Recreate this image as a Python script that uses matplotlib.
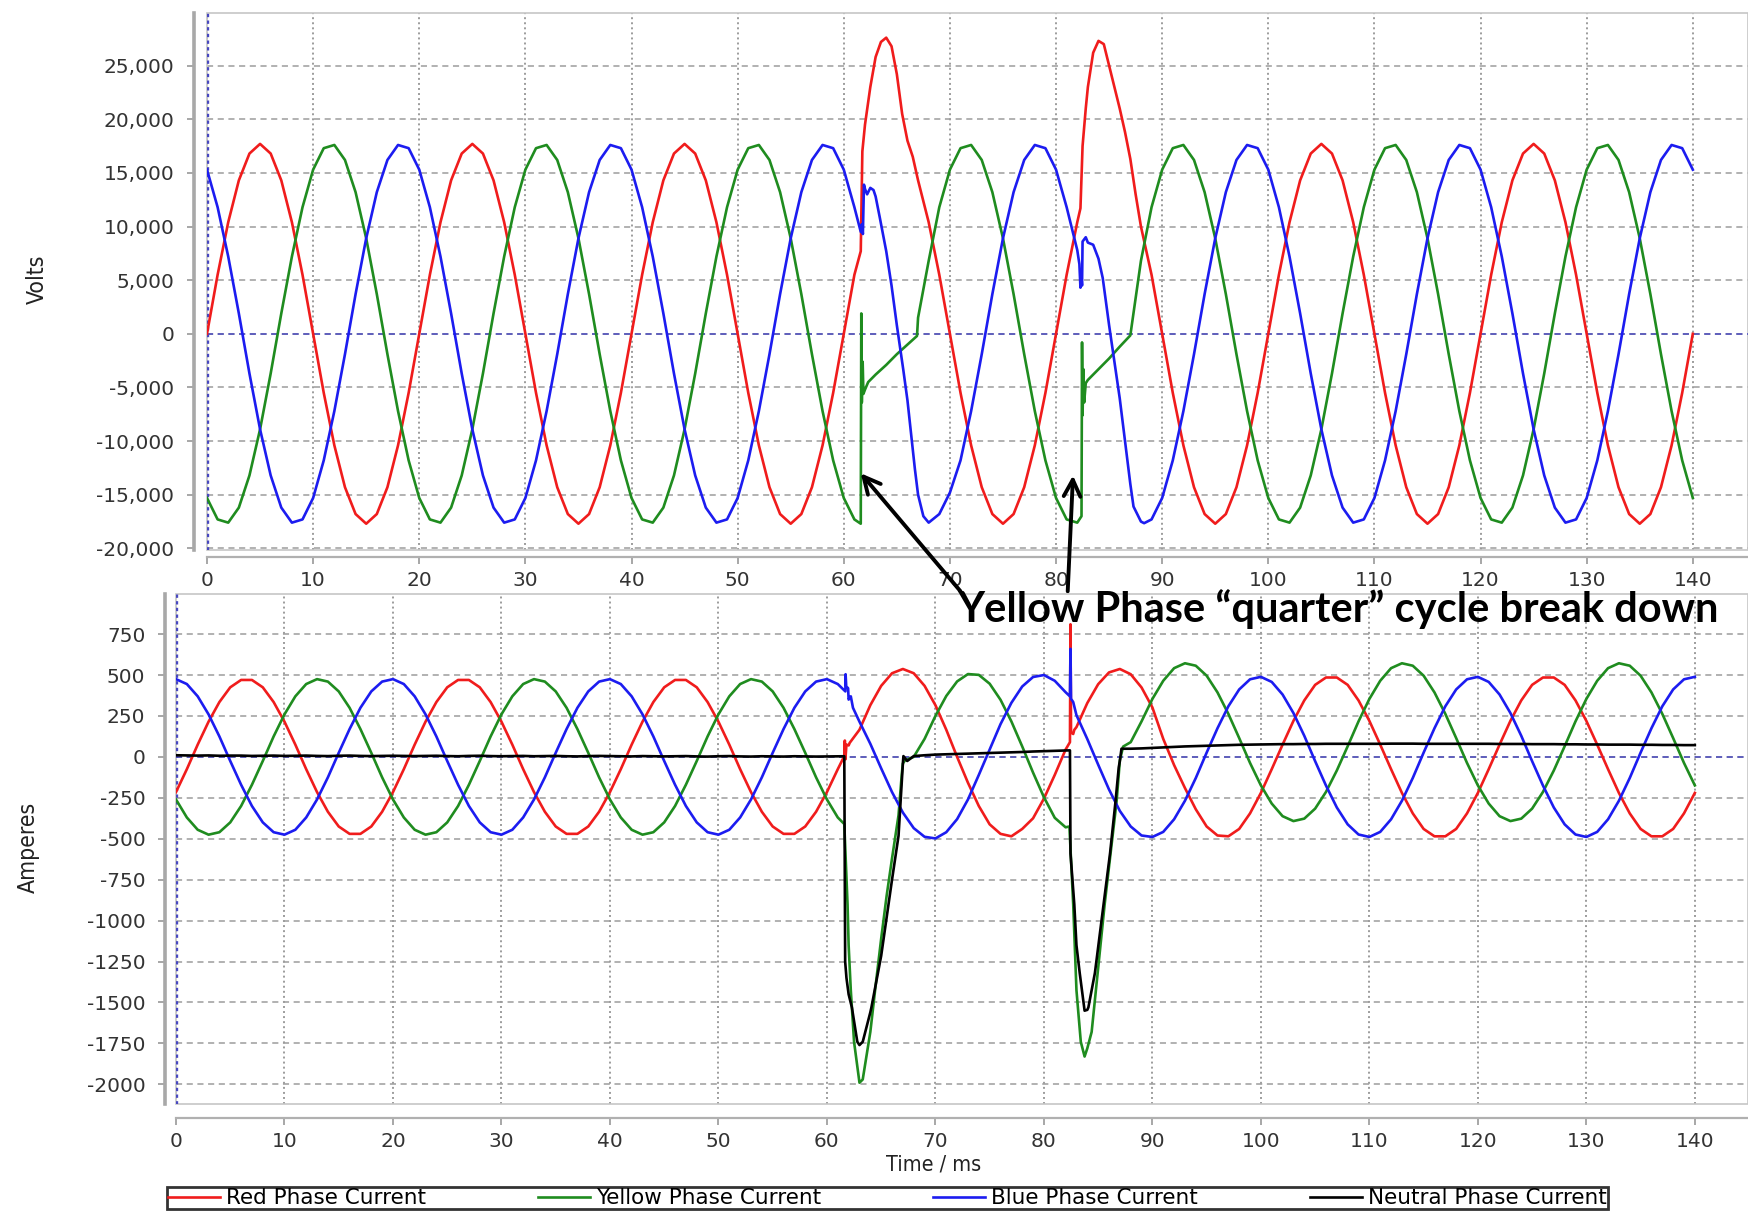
import numpy as np
import matplotlib
matplotlib.use("Agg")
import matplotlib.pyplot as plt
from matplotlib import font_manager
from matplotlib.font_manager import FontProperties
from matplotlib.patches import Rectangle
from matplotlib.ticker import FuncFormatter

# time base of the recorder, 1 ms per sample
t_ms = np.arange(0, 141)

# phase voltages (V), one value per ms
red_v = [
    0, 5500, 10400, 14300, 16800, 17700, 16800, 14300, 10400, 5500,
    0, -5500, -10400, -14300, -16800, -17700, -16800, -14300, -10400, -5500,
    0, 5500, 10400, 14300, 16800, 17700, 16800, 14300, 10400, 5500,
    0, -5500, -10400, -14300, -16800, -17700, -16800, -14300, -10400, -5500,
    0, 5500, 10400, 14300, 16800, 17700, 16800, 14300, 10400, 5500,
    0, -5500, -10400, -14300, -16800, -17700, -16800, -14300, -10400, -5500,
    0, 5500, 19500, 25800, 27600, 24200, 18000, 14300, 10400, 5500,
    0, -5500, -10400, -14300, -16800, -17700, -16800, -14300, -10400, -5500,
    0, 5500, 10400, 23000, 27300, 25000, 21000, 16300, 10000, 5500,
    0, -5500, -10400, -14300, -16800, -17700, -16800, -14300, -10400, -5500,
    0, 5500, 10400, 14300, 16800, 17700, 16800, 14300, 10400, 5500,
    0, -5500, -10400, -14300, -16800, -17700, -16800, -14300, -10400, -5500,
    0, 5500, 10400, 14300, 16800, 17700, 16800, 14300, 10400, 5500,
    0, -5500, -10400, -14300, -16800, -17700, -16800, -14300, -10400, -5500,
    0]
yellow_v = [
    -15300, -17300, -17600, -16200, -13200, -8900, -3700, 1900, 7200, 11800,
    15300, 17300, 17600, 16200, 13200, 8900, 3700, -1900, -7200, -11800,
    -15300, -17300, -17600, -16200, -13200, -8900, -3700, 1900, 7200, 11800,
    15300, 17300, 17600, 16200, 13200, 8900, 3700, -1900, -7200, -11800,
    -15300, -17300, -17600, -16200, -13200, -8900, -3700, 1900, 7200, 11800,
    15300, 17300, 17600, 16200, 13200, 8900, 3700, -1900, -7200, -11800,
    -15300, -17300, -5200, -3800, -2900, -1900, -1000, 1500, 6800, 11800,
    15300, 17300, 17600, 16200, 13200, 8900, 3700, -1900, -7200, -11800,
    -15300, -17300, -17600, -4300, -3300, -2300, -1200, -150, 6800, 11800,
    15300, 17300, 17600, 16200, 13200, 8900, 3700, -1900, -7200, -11800,
    -15300, -17300, -17600, -16200, -13200, -8900, -3700, 1900, 7200, 11800,
    15300, 17300, 17600, 16200, 13200, 8900, 3700, -1900, -7200, -11800,
    -15300, -17300, -17600, -16200, -13200, -8900, -3700, 1900, 7200, 11800,
    15300, 17300, 17600, 16200, 13200, 8900, 3700, -1900, -7200, -11800,
    -15300]
blue_v = [
    15300, 11800, 7200, 1900, -3700, -8900, -13200, -16200, -17600, -17300,
    -15300, -11800, -7200, -1900, 3700, 8900, 13200, 16200, 17600, 17300,
    15300, 11800, 7200, 1900, -3700, -8900, -13200, -16200, -17600, -17300,
    -15300, -11800, -7200, -1900, 3700, 8900, 13200, 16200, 17600, 17300,
    15300, 11800, 7200, 1900, -3700, -8900, -13200, -16200, -17600, -17300,
    -15300, -11800, -7200, -1900, 3700, 8900, 13200, 16200, 17600, 17300,
    15300, 11800, 13500, 12800, 7700, 800, -6200, -15000, -17600, -16800,
    -14800, -11800, -7200, -1900, 3700, 8900, 13200, 16200, 17600, 17300,
    15300, 11800, 7800, 8500, 7000, 800, -6000, -14000, -17500, -17300,
    -15300, -11800, -7200, -1900, 3700, 8900, 13200, 16200, 17600, 17300,
    15300, 11800, 7200, 1900, -3700, -8900, -13200, -16200, -17600, -17300,
    -15300, -11800, -7200, -1900, 3700, 8900, 13200, 16200, 17600, 17300,
    15300, 11800, 7200, 1900, -3700, -8900, -13200, -16200, -17600, -17300,
    -15300, -11800, -7200, -1900, 3700, 8900, 13200, 16200, 17600, 17300,
    15300]

# extra samples captured around the two breakdowns (ms, V)
red_v_fine_t = [61.6, 61.75, 62.5, 63.5, 64.5, 65.5, 66.5,
                82.3, 82.5, 82.8, 83.5, 84.5, 85.5, 86.5, 87.5]
red_v_fine = [7700, 17000, 23000, 27200, 26800, 20500, 16500,
              11700, 17500, 21000, 26200, 27000, 23000, 18800, 13000]
yellow_v_fine_t = [61.6, 61.65, 61.7, 61.78, 61.85, 62.3, 66.9,
                   82.4, 82.45, 82.5, 82.58, 82.65, 82.8]
yellow_v_fine = [-17700, 1900, -6400, -2600, -5600, -4500, -200,
                 -17000, -800, -7600, -3300, -6400, -4600]
blue_v_fine_t = [61.6, 61.7, 61.8, 61.9, 62.2, 62.5, 62.8, 63.4, 64.5, 65.6,
                 66.7, 67.5, 81.7, 82.2, 82.3, 82.4, 82.45, 82.5, 82.8, 83.5,
                 84.4, 86.5, 87.3, 88.3]
blue_v_fine = [9500, 10200, 9300, 13900, 13000, 13600, 13400, 10800, 4500, -3300,
               -12600, -17000, 9000, 6500, 4300, 5200, 4500, 8600, 9000, 8300,
               5200, -10000, -16100, -17650]

# line currents (A), one value per ms
red_i = [
    -215, -75, 75, 215, 335, 425, 470, 470, 425, 335,
    215, 75, -75, -215, -335, -425, -470, -470, -425, -335,
    -215, -75, 75, 215, 335, 425, 470, 470, 425, 335,
    215, 75, -75, -215, -335, -425, -470, -470, -425, -335,
    -215, -75, 75, 215, 335, 425, 470, 470, 425, 335,
    215, 75, -75, -215, -335, -425, -470, -470, -425, -335,
    -215, -75, 70, 166, 316, 434, 511, 537, 511, 434,
    316, 166, 0, -158, -300, -412, -470, -485, -440, -375,
    -255, -110, 45, 182, 329, 444, 516, 537, 505, 424,
    302, 110, -50, -190, -320, -425, -480, -485, -440, -345,
    -220, -75, 75, 220, 345, 440, 485, 485, 440, 345,
    220, 75, -75, -220, -345, -440, -485, -485, -440, -345,
    -220, -75, 75, 220, 345, 440, 485, 485, 440, 345,
    220, 75, -75, -220, -345, -440, -485, -485, -440, -345,
    -220]
yellow_i = [
    -260, -370, -445, -475, -460, -400, -300, -170, -25, 125,
    260, 370, 445, 475, 460, 400, 300, 170, 25, -125,
    -260, -370, -445, -475, -460, -400, -300, -170, -25, 125,
    260, 370, 445, 475, 460, 400, 300, 170, 25, -125,
    -260, -370, -445, -475, -460, -400, -300, -170, -25, 125,
    260, 370, 445, 475, 460, 400, 300, 170, 25, -125,
    -260, -370, -1150, -1990, -1680, -1110, -620, -40, 0, 110,
    250, 372, 461, 506, 501, 447, 349, 217, 64, -96,
    -246, -372, -430, -1425, -1780, -1290, -670, -21, 90, 217,
    354, 465, 542, 572, 557, 496, 394, 263, 115, -37,
    -174, -285, -362, -392, -377, -316, -214, -83, 65, 217,
    354, 465, 542, 572, 557, 496, 394, 263, 115, -37,
    -174, -285, -362, -392, -377, -316, -214, -83, 65, 217,
    354, 465, 542, 572, 557, 496, 394, 263, 115, -37,
    -174]
blue_i = [
    475, 445, 370, 260, 125, -25, -170, -300, -400, -460,
    -475, -445, -370, -260, -125, 25, 170, 300, 400, 460,
    475, 445, 370, 260, 125, -25, -170, -300, -400, -460,
    -475, -445, -370, -260, -125, 25, 170, 300, 400, 460,
    475, 445, 370, 260, 125, -25, -170, -300, -400, -460,
    -475, -445, -370, -260, -125, 25, 170, 300, 400, 460,
    475, 445, 350, 215, 80, -70, -215, -340, -435, -488,
    -498, -460, -380, -260, -110, 45, 200, 330, 430, 488,
    500, 465, 395, 255, 109, -47, -199, -330, -425, -480,
    -489, -458, -381, -268, -129, 26, 175, 309, 412, 474,
    489, 458, 381, 268, 129, -26, -175, -309, -412, -474,
    -489, -458, -381, -268, -129, 26, 175, 309, 412, 474,
    489, 458, 381, 268, 129, -26, -175, -309, -412, -474,
    -489, -458, -381, -268, -129, 26, 175, 309, 412, 474,
    489]
neutral_i = [
    10, 9, 8, 9, 7, 8, 8, 6, 7, 8, 6, 7, 8, 6, 5, 7, 8, 6, 5, 6,
    7, 6, 5, 6, 7, 5, 4, 6, 7, 5, 4, 5, 6, 4, 5, 6, 4, 3, 5, 6,
    5, 4, 3, 5, 4, 3, 4, 5, 3, 2, 4, 5, 3, 2, 4, 3, 2, 4, 3, 2,
    3, 4, -1450, -1760, -1560, -1215, -750, -40, 5, 10,
    14, 16, 18, 20, 22, 24, 26, 28, 30, 33,
    35, 37, 39, -1150, -1545, -1160, -640, -25, 50, 52,
    55, 58, 61, 64, 66, 68, 70, 72, 74, 75,
    76, 77, 78, 78, 79, 79, 80, 80, 80, 80, 80, 80, 81, 81, 81, 80, 80, 80, 80, 80,
    80, 80, 79, 79, 79, 78, 78, 78, 77, 77, 76, 76, 75, 75, 75, 74, 74, 73, 73, 72,
    72]

red_i_fine_t = [61.6, 61.65, 61.7, 61.8, 62.1, 82.4, 82.45, 82.5, 82.7, 82.8]
red_i_fine = [5, 100, -15, 75, 86, 90, 810, 150, 140, 165]
yellow_i_fine_t = [61.6, 61.9, 62.2, 62.5, 63.3, 64.5, 65.5, 66.6, 66.9, 67.2,
                   82.35, 82.7, 83.4, 83.75, 84.4, 85.6, 86.25, 86.7, 87.3]
yellow_i_fine = [-410, -900, -1425, -1740, -1970, -1390, -850, -356, -105, -21,
                 -425, -900, -1740, -1830, -1680, -900, -524, -272, 63]
blue_i_fine_t = [61.7, 61.72, 61.78, 61.95, 62.1, 62.2, 62.4,
                 82.4, 82.45, 82.5, 82.7]
blue_i_fine = [400, 505, 430, 420, 360, 370, 300,
               370, 660, 355, 335]
neutral_i_fine_t = [61.6, 61.68, 61.8, 62.3, 62.8, 63.3, 64.1, 65.9, 66.6, 66.9,
                    67.05, 67.4, 67.8,
                    82.4, 82.45, 82.8, 83.3, 83.75, 84.1, 84.7, 85.3, 86.1, 86.6,
                    86.9, 87.15]
neutral_i_fine = [4, -1250, -1350, -1530, -1740, -1740, -1530, -796, -482, -147,
                  5, -25, -5,
                  40, -590, -900, -1320, -1550, -1530, -1320, -1005, -587, -272,
                  -63, 50]

volt_ticks = list(range(-20000, 25001, 5000))
amp_ticks = list(range(-2000, 751, 250))
time_ticks = list(range(0, 141, 10))

RED = "#f01c1c"
GREEN = "#1f8c1f"
BLUE = "#1c1cf0"
BLACK = "#000000"

W, H = 1748, 1212


def narrow_font(size):
    # axis captions use a narrow sans; fall back to Liberation Sans
    for f in font_manager.fontManager.ttflist:
        if ("Narrow" in f.name or f.stretch == "condensed") and f.style == "normal" \
                and f.weight in (400, "normal", "regular"):
            return FontProperties(fname=f.fname, size=size)
    return FontProperties(family="Liberation Sans", size=size * 0.86)


def merged(base, fine_t, fine_v):
    t = np.concatenate([t_ms, np.asarray(fine_t, float)])
    v = np.concatenate([np.asarray(base, float), np.asarray(fine_v, float)])
    order = np.argsort(t, kind="stable")
    return t[order], v[order]


def dress(ax, xmax, ylim, yticks, fmt, left_off, bottom_off):
    ax.set_xlim(0, xmax)
    ax.set_ylim(*ylim)
    ax.set_xticks(time_ticks)
    ax.set_yticks(yticks)
    ax.yaxis.set_major_formatter(FuncFormatter(fmt))
    for side in ("top", "right"):
        ax.spines[side].set_visible(False)
    ax.spines["left"].set_position(("outward", left_off))
    ax.spines["bottom"].set_position(("outward", bottom_off))
    ax.spines["left"].set_color("#a8a8a8")
    ax.spines["left"].set_linewidth(2.6)
    ax.spines["bottom"].set_color("#b0b0b0")
    ax.spines["bottom"].set_linewidth(1.6)
    ax.add_patch(Rectangle((0, 0), 1, 1, transform=ax.transAxes, fill=False,
                           ec="#c6c6c6", lw=1.2, clip_on=False, zorder=1))
    ax.grid(axis="x", color="#9c9c9c", linestyle=(0, (1, 1.6)), linewidth=1.4)
    ax.grid(axis="y", color="#9c9c9c", linestyle=(0, (4, 3)), linewidth=1.1)
    ax.axhline(0, color="#4848c0", linestyle=(0, (4, 3)), linewidth=1.1, zorder=1.5)
    ax.axvline(0, color="#4848c0", linestyle=(0, (1, 1)), linewidth=2.4, zorder=1.5)
    ax.tick_params(colors="#a0a0a0", labelcolor="#333333", length=5, width=1.3,
                   labelsize=14.5)
    ax.tick_params(axis="y", pad=9)
    ax.tick_params(axis="x", pad=5)
    ax.set_axisbelow(True)


fig = plt.figure(figsize=(W / 100, H / 100), dpi=100)
ax_v = fig.add_axes([207 / W, 1 - 550 / H, 1 - 207 / W, (550 - 13) / H])
ax_i = fig.add_axes([176 / W, 1 - 1104 / H, 1 - 176 / W, (1104 - 594) / H])

dress(ax_v, 145.2, (-20150, 29900), volt_ticks,
      lambda v, p: f"{int(v):,}", 9.5, 5)
dress(ax_i, 144.9, (-2120, 995), amp_ticks,
      lambda v, p: f"{int(v)}", 8, 10)

lw = 1.9
ax_v.plot(*merged(red_v, red_v_fine_t, red_v_fine), color=RED, lw=lw)
ax_v.plot(*merged(yellow_v, yellow_v_fine_t, yellow_v_fine), color=GREEN, lw=lw)
ax_v.plot(*merged(blue_v, blue_v_fine_t, blue_v_fine), color=BLUE, lw=lw)

h_red, = ax_i.plot(*merged(red_i, red_i_fine_t, red_i_fine), color=RED, lw=lw,
                   label="Red Phase Current")
h_yel, = ax_i.plot(*merged(yellow_i, yellow_i_fine_t, yellow_i_fine), color=GREEN,
                   lw=lw, label="Yellow Phase Current")
h_blu, = ax_i.plot(*merged(blue_i, blue_i_fine_t, blue_i_fine), color=BLUE, lw=lw,
                   label="Blue Phase Current")
h_neu, = ax_i.plot(*merged(neutral_i, neutral_i_fine_t, neutral_i_fine), color=BLACK,
                   lw=lw, label="Neutral Phase Current")

caption = narrow_font(16.5)
fig.text(37 / W, 1 - 279 / H, "Volts", rotation=90, ha="center", va="center",
         fontproperties=caption, color="#222222")
fig.text(28 / W, 1 - 847 / H, "Amperes", rotation=90, ha="center", va="center",
         fontproperties=caption, color="#222222")
fig.text(934 / W, 1 - 1164 / H, "Time / ms", ha="center", va="center",
         fontproperties=narrow_font(15.5), color="#222222")

# breakdown callout
fig.text(957 / W, 1 - 609 / H, "Yellow Phase \u201cquarter\u201d cycle break down",
         ha="left", va="center", fontsize=30, fontweight="bold", family="Lato",
         color="black", zorder=10)
arrow = dict(arrowstyle="->", lw=2.8, color="black", mutation_scale=30,
             shrinkA=0, shrinkB=0)
ax_v.annotate("", xy=(61.6, -13000), xytext=(71.0, -24000), arrowprops=arrow,
              annotation_clip=False)
ax_v.annotate("", xy=(81.6, -13200), xytext=(81.1, -24000), arrowprops=arrow,
              annotation_clip=False)

leg = fig.legend(handles=[h_red, h_yel, h_blu, h_neu], loc="upper left",
                 bbox_to_anchor=(167 / W, 0, (1608 - 167) / W, 1 - 1187 / H),
                 mode="expand", ncol=4, frameon=True, fancybox=False,
                 prop={"family": "DejaVu Sans", "size": 15.5}, handlelength=2.4,
                 handletextpad=0.3, borderpad=0.05, borderaxespad=0)
leg.get_frame().set_edgecolor("black")
leg.get_frame().set_linewidth(2.0)

fig.savefig("out.png", dpi=100)
